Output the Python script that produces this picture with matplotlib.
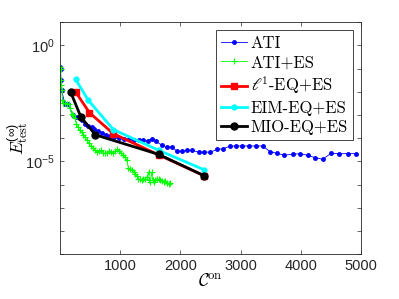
import matplotlib
matplotlib.use("Agg")
import matplotlib.pyplot as plt
from matplotlib.font_manager import FontProperties

plt.rcParams['font.family'] = ['Liberation Sans', 'DejaVu Sans']
plt.rcParams['mathtext.default'] = 'regular'
plt.rcParams['axes.formatter.use_mathtext'] = True

# data
ati_x = [8, 12, 17, 28, 83, 128, 222, 262, 362, 417, 472, 528, 572, 633, 700, 767,
         833, 900, 983, 1067, 1150, 1233, 1317, 1383, 1455, 1528, 1600, 1695, 1778,
         1862, 1945, 2028, 2112, 2195, 2305, 2400, 2500, 2612, 2712, 2822, 2917, 3025,
         3133, 3250, 3367, 3488, 3612, 3722, 3862, 3988, 4112, 4233, 4362, 4500, 4638,
         4778, 4917]
ati_y = [1.15e-1, 9.3e-2, 3.1e-2, 1.15e-2, 3.1e-3, 3.1e-3, 9.5e-4, 8.1e-4, 5.9e-4,
         4.2e-4, 3.5e-4, 3.0e-4, 2.4e-4, 1.95e-4, 1.62e-4, 1.38e-4, 1.2e-4, 1.07e-4,
         9.8e-5, 9.5e-5, 8.9e-5, 8.7e-5, 8.5e-5, 8.1e-5, 7.4e-5, 9.5e-5, 7.2e-5,
         4.9e-5, 4.2e-5, 4.2e-5, 2.7e-5, 2.7e-5, 2.95e-5, 2.95e-5, 2.5e-5, 2.5e-5,
         2.5e-5, 3.3e-5, 3.5e-5, 4.5e-5, 4.6e-5, 4.6e-5, 4.6e-5, 4.6e-5, 4.6e-5,
         2.6e-5, 2.2e-5, 1.86e-5, 2.0e-5, 2.15e-5, 1.82e-5, 1.45e-5, 1.23e-5, 2.2e-5,
         2.15e-5, 2.15e-5, 2.15e-5]

ati_es_x = [8, 12, 17, 25, 33, 42, 50, 83, 117, 150, 175, 200, 225, 250, 275, 300,
            333, 362, 392, 417, 450, 483, 517, 550, 583, 617, 650, 683, 717, 750, 783,
            817, 850, 883, 917, 950, 983, 1017, 1050, 1083, 1112, 1138, 1167, 1195,
            1225, 1250, 1283, 1305, 1333, 1362, 1388, 1417, 1445, 1472, 1483, 1500,
            1528, 1542, 1555, 1583, 1612, 1638, 1667, 1695, 1722, 1750, 1778, 1805, 1833]
ati_es_y = [1.16e-1, 9.25e-2, 3.1e-2, 1.89e-2, 1.15e-2, 4.26e-3, 3.16e-3, 3.16e-3,
            3.01e-3, 2.86e-3, 1.92e-3, 1.06e-3, 9.6e-4, 7.1e-4, 3.9e-4, 2.9e-4, 2.2e-4,
            1.8e-4, 1.3e-4, 1.08e-4, 8.0e-5, 6.0e-5, 4.4e-5, 3.6e-5, 3.0e-5, 2.6e-5,
            2.7e-5, 3.0e-5, 2.4e-5, 2.2e-5, 2.4e-5, 2.7e-5, 2.6e-5, 2.3e-5, 2.7e-5,
            3.3e-5, 2.7e-5, 2.2e-5, 1.8e-5, 1.56e-5, 1.1e-5, 5.0e-6, 4.5e-6, 4.1e-6,
            3.5e-6, 2.95e-6, 2.25e-6, 1.8e-6, 1.67e-6, 1.52e-6, 1.67e-6, 1.8e-6, 2.04e-6,
            3.5e-6, 1.52e-6, 1.28e-6, 3.5e-6, 1.52e-6, 1.28e-6, 1.52e-6, 1.8e-6, 1.67e-6,
            1.52e-6, 1.37e-6, 1.28e-6, 1.37e-6, 1.18e-6, 1.09e-6, 1.13e-6]

l1_x = [262, 490, 888, 1639, 2394]
l1_y = [9.8e-3, 1.26e-3, 1.55e-4, 1.9e-5, 2.4e-6]

eim_x = [262, 472, 888, 1639, 2388]
eim_y = [3.4e-2, 4.3e-3, 2.35e-4, 3.0e-5, 4.4e-6]

mio_x = [178, 350, 590, 1638, 2394]
mio_y = [9.8e-3, 8.1e-4, 1.38e-4, 2.0e-5, 2.4e-6]

ytick_vals = [1e-9, 1e-8, 1e-7, 1e-6, 1e-5, 1e-4, 1e-3, 1e-2, 1e-1, 1e0, 1e1]
ytick_labels = ['', '', '', '', r'$10^{-5}$', '', '', '', '', r'$10^{0}$', '']
xtick_vals = [1000, 2000, 3000, 4000, 5000]

fig = plt.figure(figsize=(3.99, 2.99), dpi=100)
ax = fig.add_axes([0.150, 0.150, 0.755, 0.776])

ax.plot(ati_x, ati_y, color='blue', linewidth=0.6, marker='.', markersize=5,
        label='ATI')
ax.plot(ati_es_x, ati_es_y, color=(0, 1, 0), linewidth=0.6, marker='+',
        markersize=4, markeredgewidth=0.8, label='ATI+ES')
ax.plot(l1_x, l1_y, color='red', linewidth=2, marker='s', markersize=4,
        label=r'$\ell^1$-EQ+ES')
ax.plot(eim_x, eim_y, color='cyan', linewidth=2, marker='.', markersize=7,
        label='EIM-EQ+ES')
ax.plot(mio_x, mio_y, color='black', linewidth=2, marker='o', markersize=5,
        label='MIO-EQ+ES')

ax.set_yscale('log')
ax.set_xlim(0, 5000)
ax.set_ylim(1e-9, 1e1)
ax.set_yticks(ytick_vals)
ax.set_yticklabels(ytick_labels)
ax.minorticks_off()
ax.set_xticks(xtick_vals)
ax.set_xticklabels([str(v) for v in xtick_vals])
ax.tick_params(direction='in', top=True, right=True, length=3, width=0.5,
               labelsize=10.5, colors='#262626')
for s in ax.spines.values():
    s.set_linewidth(0.6)
    s.set_color('#262626')

ax.set_xlabel(r'$\mathcal{C}^{\rm on}$', fontsize=13, math_fontfamily='cm',
              labelpad=0)
ax.set_ylabel(r'$\mathit{E}^{(\infty)}_{\rm test}$', fontsize=12.5,
              math_fontfamily='cm')
ax.yaxis.set_label_coords(-0.095, 0.5)

leg = ax.legend(loc='upper right', prop=FontProperties(family='cmr10', size=12,
                                                       math_fontfamily='cm'),
                fancybox=False, framealpha=1, edgecolor='#262626',
                handlelength=1.6, handletextpad=0.2, labelspacing=0.25,
                borderpad=0.3, borderaxespad=0.5)
leg.get_frame().set_linewidth(0.6)

fig.savefig('out.png', dpi=100)
